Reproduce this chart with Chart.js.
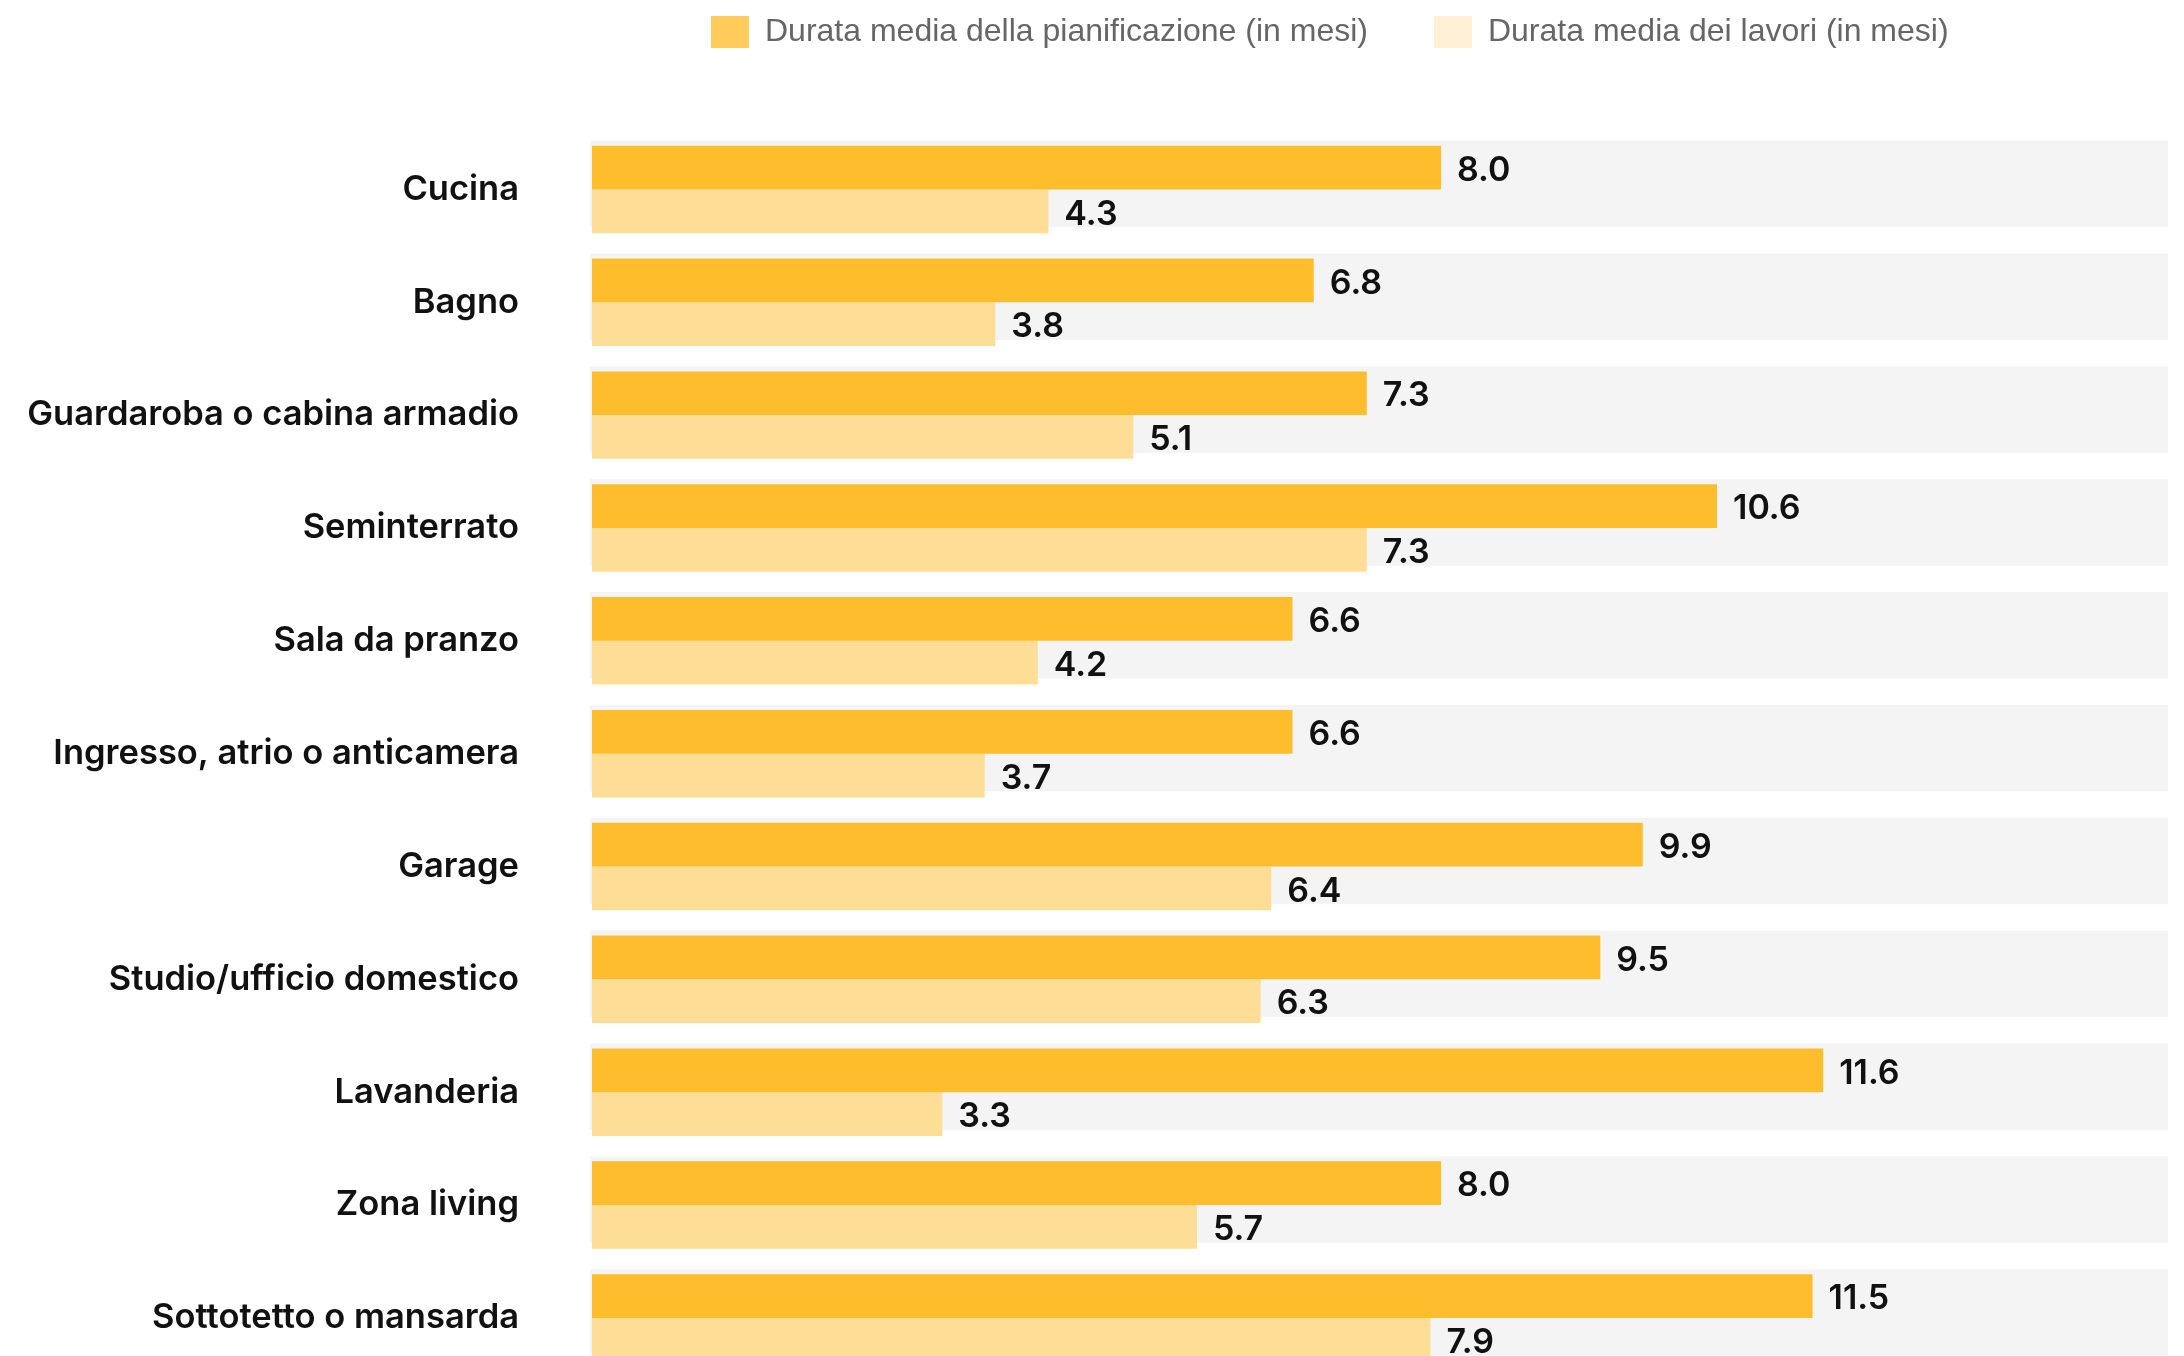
<!DOCTYPE html>
<html lang="it">
<head>
<meta charset="utf-8">
<title>Durata media dei progetti</title>
<script src="https://cdn.jsdelivr.net/npm/chart.js@4.4.1/dist/chart.umd.min.js"></script>
<style>
    html, body { margin: 0; padding: 0; background: #fff; overflow: hidden; }
    .frame { width: 2184px; height: 1356px; overflow: hidden; }
    .PieContainer { position: relative; width: 2184px; height: 1468px; }
</style>
</head>
<body>
<div class="frame">
    <div class="PieContainer"><canvas id="canvasdurata"></canvas></div>
</div>
<script>
const categories = [
    'Cucina',
    'Bagno',
    'Guardaroba o cabina armadio',
    'Seminterrato',
    'Sala da pranzo',
    'Ingresso, atrio o anticamera',
    'Garage',
    'Studio/ufficio domestico',
    'Lavanderia',
    'Zona living',
    'Sottotetto o mansarda'
];
const pianificazione = [8.0, 6.8, 7.3, 10.6, 6.6, 6.6, 9.9, 9.5, 11.6, 8.0, 11.5];
const lavori = [4.3, 3.8, 5.1, 7.3, 4.2, 3.7, 6.4, 6.3, 3.3, 5.7, 7.9];
const seriesNames = ['Durata media della pianificazione (in mesi)', 'Durata media dei lavori (in mesi)'];

const barColors = ['#FEBD2C', '#FEDD96'];
const legendColors = ['#FFCC5C', '#FFF0D6'];
const labelFont = 'Inter, "Open Sans", sans-serif';

// grey track behind every pair of bars
const trackPlugin = {
    id: 'track',
    beforeDatasetsDraw(chart) {
        const ctx = chart.ctx;
        const area = chart.chartArea;
        const top = chart.getDatasetMeta(0).data;
        const bottom = chart.getDatasetMeta(1).data;
        ctx.save();
        ctx.fillStyle = '#F4F4F4';
        top.forEach(function(bar, i) {
            const y1 = bar.y - bar.height / 2 - 5;
            const y2 = bottom[i].y + bottom[i].height / 2 - 6;
            ctx.fillRect(area.left - 2, y1, area.right - 16 - (area.left - 2), y2 - y1);
        });
        ctx.restore();
    }
};

// value written after the end of each bar
const valuePlugin = {
    id: 'values',
    afterDatasetsDraw(chart) {
        const ctx = chart.ctx;
        ctx.save();
        ctx.font = '600 34px ' + labelFont;
        ctx.fillStyle = '#111';
        ctx.textAlign = 'left';
        ctx.textBaseline = 'middle';
        chart.data.datasets.forEach(function(ds, d) {
            chart.getDatasetMeta(d).data.forEach(function(bar, i) {
                ctx.fillText(ds.data[i].toFixed(1), bar.x + 16, bar.y + 3);
            });
        });
        ctx.restore();
    }
};

// move the legend over the bars instead of centering it on the canvas
const legendShift = {
    id: 'legendShift',
    afterLayout(chart) {
        chart.legend.left = 711 - chart.legend.options.labels.padding;
    }
};

const ctx = document.getElementById('canvasdurata').getContext('2d');
new Chart(ctx, {
    type: 'bar',
    data: {
        labels: categories,
        datasets: [{
            label: seriesNames[0],
            data: pianificazione,
            backgroundColor: barColors[0]
        }, {
            label: seriesNames[1],
            data: lavori,
            backgroundColor: barColors[1]
        }]
    },
    options: {
        indexAxis: 'y',
        responsive: true,
        maintainAspectRatio: false,
        animation: false,
        layout: { padding: { top: -50, left: 0, right: 0, bottom: 0 } },
        datasets: { bar: { categoryPercentage: 0.775, barPercentage: 1.0 } },
        plugins: {
            tooltip: { enabled: false },
            legend: {
                position: 'top',
                align: 'start',
                labels: {
                    boxWidth: 38,
                    boxHeight: 32,
                    padding: 66,
                    color: '#666',
                    font: { family: '"Liberation Sans", Arial, sans-serif', size: 32 },
                    generateLabels: function(chart) {
                        return chart.data.datasets.map(function(ds, i) {
                            return {
                                text: ds.label,
                                fillStyle: legendColors[i],
                                strokeStyle: legendColors[i],
                                lineWidth: 0,
                                fontColor: '#666',
                                datasetIndex: i
                            };
                        });
                    }
                }
            }
        },
        scales: {
            x: {
                position: 'top',
                min: 0,
                max: 15,
                grid: { display: false, drawTicks: false },
                border: { display: false },
                ticks: { display: false },
                afterFit: function(scale) { scale.height = 75; }
            },
            y: {
                grid: { display: false, drawTicks: false },
                border: { display: false },
                ticks: {
                    padding: 73,
                    color: '#111',
                    font: { family: labelFont, size: 34.5, weight: '600' }
                },
                afterFit: function(scale) { scale.width = 592; }
            }
        }
    },
    plugins: [trackPlugin, valuePlugin, legendShift]
});
</script>
</body>
</html>
